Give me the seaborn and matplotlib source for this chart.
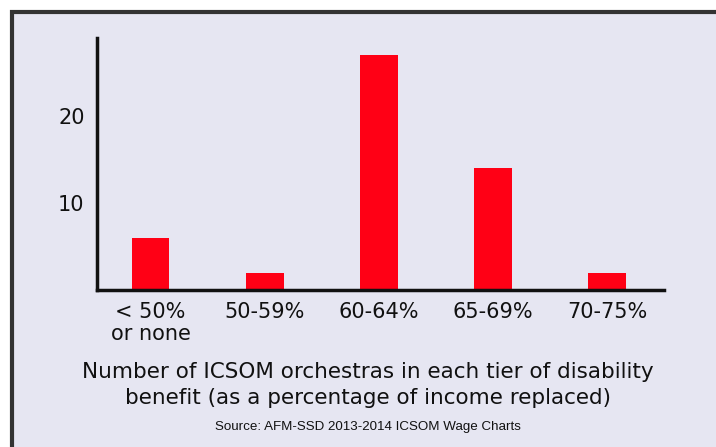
import matplotlib
matplotlib.use('Agg')
import matplotlib.pyplot as plt
import seaborn as sns
from matplotlib.patches import Rectangle

# Data
tiers = ['< 50%\nor none', '50-59%', '60-64%', '65-69%', '70-75%']
orchestras = [6, 2, 27, 14, 2]
y_ticks = [10, 20]

bg = '#E6E6F2'
bar_red = '#FF0015'

sns.set_theme(style='white')
plt.rcParams['font.family'] = ['DejaVu Sans']

fig = plt.figure(figsize=(7.16, 4.47), dpi=100)
fig.patch.set_facecolor('white')

# lavender panel with dark frame on the left/top
fig.patches.append(Rectangle((12 / 716, -0.2), 1.5, 1 - 12 / 447 + 0.2,
                             transform=fig.transFigure, facecolor=bg,
                             edgecolor='#333333', linewidth=3, zorder=-10))

ax = fig.add_axes([97 / 716, (447 - 290) / 447, (664 - 97) / 716, (290 - 38) / 447])
ax.set_facecolor('none')

sns.barplot(x=tiers, y=orchestras, color=bar_red, saturation=1, width=0.33,
            linewidth=0, ax=ax)

ax.set_xlim(-0.47, 4.5)
ax.set_ylim(0, 29)
ax.set_yticks(y_ticks)
ax.tick_params(axis='both', length=0, labelsize=15, colors='#111111')
ax.tick_params(axis='x', pad=9)
ax.tick_params(axis='y', pad=9)
for lbl in ax.get_xticklabels():
    lbl.set_linespacing(1.1)

sns.despine(ax=ax)
for side in ['left', 'bottom']:
    ax.spines[side].set_color('#111111')
    ax.spines[side].set_linewidth(2.5)

cx = 368 / 716
fig.text(cx, 1 - 372 / 447, 'Number of ICSOM orchestras in each tier of disability',
         ha='center', va='center', fontsize=15.5, color='#111111')
fig.text(cx, 1 - 398 / 447, 'benefit (as a percentage of income replaced)',
         ha='center', va='center', fontsize=15.5, color='#111111')
fig.text(cx, 1 - 427 / 447, 'Source: AFM-SSD 2013-2014 ICSOM Wage Charts',
         ha='center', va='center', fontsize=9.6, color='#111111',
         family=['Liberation Sans', 'DejaVu Sans'])

fig.savefig('out.png', dpi=100, facecolor=fig.get_facecolor())
